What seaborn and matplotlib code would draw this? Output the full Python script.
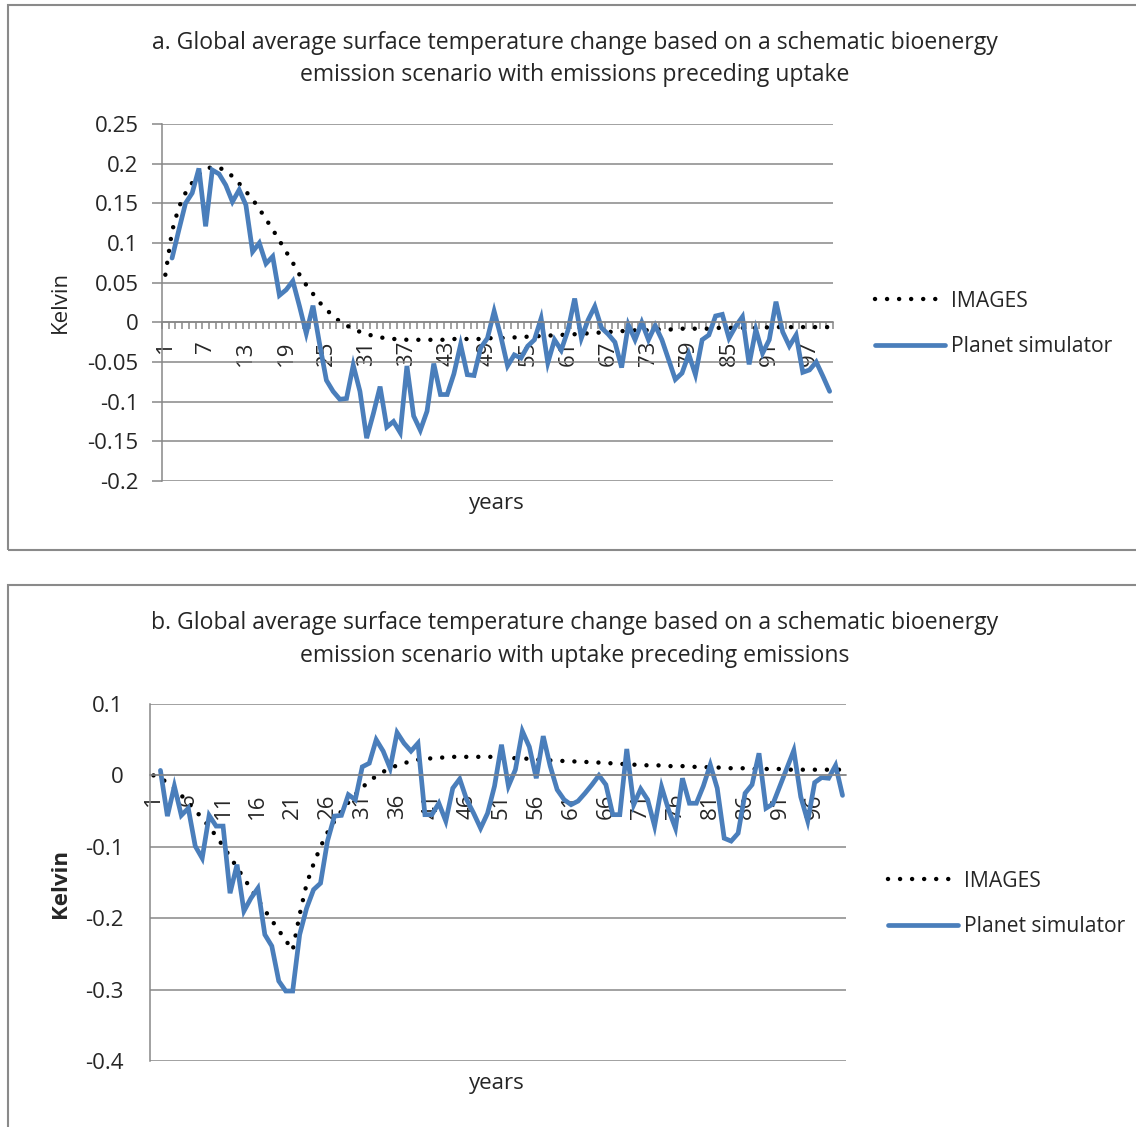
import numpy as np
import pandas as pd
import matplotlib
matplotlib.use("Agg")
import matplotlib.pyplot as plt
import seaborn as sns
from matplotlib.patches import Rectangle
from matplotlib.lines import Line2D

years = list(range(1, 101))
series_names = ["IMAGES", "Planet simulator"]

images_a = [
    0.060, 0.115, 0.145, 0.163, 0.176, 0.186, 0.193, 0.196, 0.195, 0.191,
    0.184, 0.175, 0.165, 0.155, 0.143, 0.130, 0.117, 0.103, 0.089, 0.075,
    0.060, 0.047, 0.036, 0.025, 0.016, 0.008, 0.001, -0.004, -0.008, -0.012,
    -0.015, -0.017, -0.019, -0.020, -0.021, -0.021, -0.022, -0.022, -0.022, -0.022,
    -0.022, -0.022, -0.022, -0.021, -0.021, -0.021, -0.021, -0.021, -0.020, -0.020,
    -0.020, -0.019, -0.019, -0.019, -0.018, -0.018, -0.017, -0.017, -0.016, -0.016,
    -0.015, -0.015, -0.014, -0.014, -0.013, -0.013, -0.012, -0.012, -0.011, -0.011,
    -0.010, -0.010, -0.010, -0.009, -0.009, -0.009, -0.009, -0.008, -0.008, -0.008,
    -0.008, -0.008, -0.007, -0.007, -0.007, -0.007, -0.007, -0.007, -0.007, -0.007,
    -0.006, -0.006, -0.006, -0.006, -0.006, -0.006, -0.006, -0.006, -0.006, -0.006,
]

planet_a = [
    np.nan, 0.081, 0.116, 0.150, 0.163, 0.194, 0.121, 0.192, 0.187, 0.173,
    0.152, 0.167, 0.148, 0.089, 0.100, 0.074, 0.083, 0.034, 0.041, 0.052,
    0.020, -0.014, 0.021, -0.028, -0.073, -0.087, -0.097, -0.096, -0.054, -0.087,
    -0.146, -0.115, -0.081, -0.132, -0.125, -0.139, -0.055, -0.118, -0.136, -0.112,
    -0.052, -0.091, -0.091, -0.065, -0.028, -0.066, -0.067, -0.032, -0.020, 0.014,
    -0.018, -0.055, -0.041, -0.045, -0.030, -0.022, 0.005, -0.051, -0.022, -0.035,
    -0.010, 0.030, -0.020, 0.003, 0.020, -0.007, -0.015, -0.025, -0.057, -0.003,
    -0.022, 0.000, -0.022, -0.004, -0.022, -0.047, -0.072, -0.064, -0.040, -0.066,
    -0.022, -0.016, 0.008, 0.010, -0.020, -0.005, 0.007, -0.053, -0.009, -0.039,
    -0.022, 0.026, -0.012, -0.030, -0.016, -0.063, -0.060, -0.050, -0.068, -0.087,
]

images_b = [
    0.000, -0.004, -0.010, -0.018, -0.028, -0.038, -0.049, -0.060, -0.072, -0.085,
    -0.099, -0.114, -0.129, -0.144, -0.159, -0.174, -0.189, -0.203, -0.217, -0.231,
    -0.245, -0.195, -0.152, -0.124, -0.100, -0.080, -0.064, -0.050, -0.038, -0.027,
    -0.017, -0.008, -0.001, 0.005, 0.010, 0.014, 0.017, 0.020, 0.022, 0.023,
    0.024, 0.025, 0.025, 0.026, 0.026, 0.026, 0.026, 0.026, 0.026, 0.026,
    0.025, 0.025, 0.024, 0.024, 0.023, 0.022, 0.022, 0.021, 0.021, 0.020,
    0.020, 0.019, 0.019, 0.018, 0.018, 0.017, 0.017, 0.016, 0.016, 0.015,
    0.015, 0.014, 0.014, 0.014, 0.013, 0.013, 0.013, 0.012, 0.012, 0.012,
    0.011, 0.011, 0.011, 0.010, 0.010, 0.010, 0.009, 0.009, 0.009, 0.009,
    0.009, 0.008, 0.008, 0.008, 0.008, 0.008, 0.008, 0.008, 0.008, 0.008,
]

planet_b = [
    np.nan, 0.007, -0.057, -0.015, -0.056, -0.046, -0.099, -0.116, -0.056, -0.071,
    -0.071, -0.165, -0.125, -0.190, -0.172, -0.158, -0.223, -0.239, -0.288, -0.302,
    -0.302, -0.223, -0.186, -0.160, -0.151, -0.092, -0.057, -0.056, -0.027, -0.034,
    0.012, 0.017, 0.050, 0.034, 0.010, 0.060, 0.045, 0.034, 0.045, -0.055,
    -0.055, -0.039, -0.064, -0.018, -0.005, -0.034, -0.053, -0.074, -0.053, -0.015,
    0.043, -0.015, 0.008, 0.062, 0.040, -0.004, 0.055, 0.013, -0.020, -0.034,
    -0.041, -0.036, -0.025, -0.013, 0.000, -0.013, -0.055, -0.055, 0.037, -0.041,
    -0.019, -0.034, -0.071, -0.016, -0.048, -0.074, -0.004, -0.039, -0.039, -0.015,
    0.015, -0.018, -0.088, -0.092, -0.081, -0.025, -0.013, 0.031, -0.046, -0.040,
    -0.015, 0.010, 0.035, -0.030, -0.064, -0.010, -0.003, -0.004, 0.014, -0.028,
]

title_a = ["a. Global average surface temperature change based on a schematic bioenergy",
           "emission scenario with emissions preceding uptake"]
title_b = ["b. Global average surface temperature change based on a schematic bioenergy",
           "emission scenario with uptake preceding emissions"]
yticks_a = [0.25, 0.2, 0.15, 0.1, 0.05, 0, -0.05, -0.1, -0.15, -0.2]
yticks_b = [0.1, 0, -0.1, -0.2, -0.3, -0.4]
xlabels_a = list(range(1, 101, 6))
xlabels_b = list(range(1, 101, 5))

sns.set_theme(style="white")
plt.rcParams["font.family"] = ["Open Sans", "DejaVu Sans"]

W, H = 1136, 1127
FS = 16
FS_TITLE = 16.6
FS_LEG = 15.2
GRID = "#878787"
BLUE = "#4A7EBB"

fig = plt.figure(figsize=(W / 100, H / 100), dpi=100)


def fx(px):
    return px / W


def fy(py):
    return 1 - py / H


# chart-area borders
fig.add_artist(Rectangle((fx(8), fy(550)), 1.2, (550 - 5) / H, transform=fig.transFigure,
                         fill=False, ec="#8a8a8a", lw=1.5))
fig.add_artist(Rectangle((fx(8), -0.2), 1.2, 0.2 + (H - 585) / H, transform=fig.transFigure,
                         fill=False, ec="#8a8a8a", lw=1.5))


def draw_panel(rect, images, planet, yticks, xlabels, minor_ticks, ytick_len, ypad):
    ax = fig.add_axes(rect)
    df = pd.DataFrame({"year": years * 2,
                       "value": list(images) + list(planet),
                       "series": [series_names[0]] * 100 + [series_names[1]] * 100})
    sns.lineplot(data=df[df.series == series_names[0]], x="year", y="value", ax=ax,
                 color="black", lw=3.2, linestyle=(0, (0.01, 2.7)),
                 dash_capstyle="round", legend=False)
    sns.lineplot(data=df[df.series == series_names[1]], x="year", y="value", ax=ax,
                 color=BLUE, lw=3.4, legend=False, solid_joinstyle="miter")
    ax.set_xlim(0.5, 100.5)
    ax.set_ylim(min(yticks), max(yticks))
    ax.set_yticks(yticks)
    ax.set_yticklabels([f"{t:g}" for t in yticks])
    ax.yaxis.grid(True, color=GRID, lw=1.1)
    ax.xaxis.grid(False)
    ax.set_axisbelow(True)
    for s in ["top", "right"]:
        ax.spines[s].set_visible(False)
    ax.spines["left"].set_color(GRID)
    ax.spines["left"].set_linewidth(1.1)
    ax.spines["bottom"].set_position(("data", 0))
    ax.spines["bottom"].set_color(GRID)
    ax.spines["bottom"].set_linewidth(1.1)
    ax.set_xticks(xlabels)
    ax.set_xticklabels([str(v) for v in xlabels], rotation=90)
    ax.tick_params(axis="x", which="major", length=0, pad=13, labelsize=FS)
    if minor_ticks:
        ax.set_xticks(np.arange(0.5, 101, 1), minor=True)
        ax.tick_params(axis="x", which="minor", length=5, width=1.1, color=GRID,
                       direction="out", bottom=True)
    ax.tick_params(axis="y", length=ytick_len, width=1.1, color=GRID, pad=ypad,
                   labelsize=FS, left=True)
    ax.set_xlabel("")
    ax.set_ylabel("")
    return ax


ax_a = draw_panel([fx(162), fy(481), (833 - 162) / W, (481 - 124) / H],
                  images_a, planet_a, yticks_a, xlabels_a, True, 7, 10)
ax_b = draw_panel([fx(150), fy(1061), (846 - 150) / W, (1061 - 704) / H],
                  images_b, planet_b, yticks_b, xlabels_b, False, 0, 19)

# titles and axis labels
for line, y in zip(title_a, [43, 75]):
    fig.text(fx(575), fy(y), line, ha="center", va="center", fontsize=FS_TITLE)
for line, y in zip(title_b, [623, 656]):
    fig.text(fx(575), fy(y), line, ha="center", va="center", fontsize=FS_TITLE)
fig.text(fx(60), fy(302), "Kelvin", rotation=90, ha="center", va="center", fontsize=FS)
fig.text(fx(60), fy(883), "Kelvin", rotation=90, ha="center", va="center", fontsize=FS,
         fontweight="bold")
fig.text(fx(497), fy(503), "years", ha="center", va="center", fontsize=FS)
fig.text(fx(497), fy(1083), "years", ha="center", va="center", fontsize=FS)

# legends
handles = [Line2D([], [], color="black", lw=3.2, linestyle=(0, (0.01, 2.7)),
                  dash_capstyle="round"),
           Line2D([], [], color=BLUE, lw=3.4)]
for anchor_x, anchor_y in [(875, 324), (888, 904)]:
    fig.legend(handles, series_names, loc="center left",
               bbox_to_anchor=(fx(anchor_x), fy(anchor_y)), bbox_transform=fig.transFigure,
               frameon=False, fontsize=FS_LEG, handlelength=3.3, handletextpad=0.3,
               labelspacing=1.15, borderpad=0, borderaxespad=0)

fig.savefig("out.png", dpi=100)
